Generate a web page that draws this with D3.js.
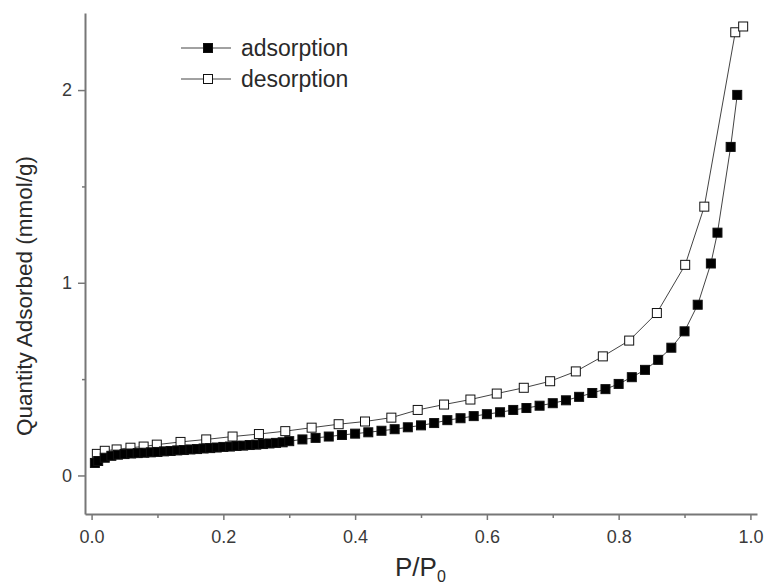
<!DOCTYPE html>
<html>
<head>
<meta charset="utf-8">
<script src="https://cdn.jsdelivr.net/npm/d3@7"></script>
<style>
  body { margin: 0; background: #fff; }
  svg { display: block; font-family: "Liberation Sans", Arial, sans-serif; }
  .axis path, .axis line { stroke: #777; }
  .axis text { fill: #3a3a3a; }
</style>
</head>
<body>
<div id="chart"></div>
<script>
// ----------------------------------------------
// Data (read off the isotherm)
// ----------------------------------------------
const adsP = [0.005, 0.01, 0.02, 0.03, 0.04, 0.05, 0.06, 0.07, 0.08, 0.09,
  0.10, 0.11, 0.12, 0.13, 0.14, 0.15, 0.16, 0.17, 0.18, 0.19,
  0.20, 0.21, 0.22, 0.23, 0.24, 0.25, 0.26, 0.27, 0.28, 0.29,
  0.30, 0.32, 0.34, 0.36, 0.38, 0.40, 0.42, 0.44, 0.46, 0.48,
  0.50, 0.52, 0.54, 0.56, 0.58, 0.60, 0.62, 0.64, 0.66, 0.68,
  0.70, 0.72, 0.74, 0.76, 0.78, 0.80, 0.82, 0.84, 0.86, 0.88,
  0.90, 0.92, 0.94, 0.95, 0.97, 0.98];
const adsQ = [0.065, 0.075, 0.092, 0.102, 0.108, 0.111, 0.114, 0.116, 0.118, 0.120,
  0.122, 0.125, 0.127, 0.130, 0.132, 0.135, 0.137, 0.140, 0.142, 0.145,
  0.148, 0.150, 0.153, 0.155, 0.158, 0.160, 0.163, 0.166, 0.169, 0.172,
  0.178, 0.187, 0.195, 0.202, 0.210, 0.217, 0.224, 0.232, 0.240, 0.250,
  0.260, 0.272, 0.287, 0.297, 0.308, 0.318, 0.328, 0.340, 0.350, 0.362,
  0.375, 0.390, 0.408, 0.428, 0.448, 0.475, 0.510, 0.548, 0.600, 0.663,
  0.748, 0.886, 1.100, 1.260, 1.705, 1.975];

const desP = [0.008, 0.020, 0.038, 0.059, 0.079, 0.099, 0.135, 0.174, 0.214, 0.254,
  0.294, 0.334, 0.375, 0.415, 0.455, 0.495, 0.535, 0.575, 0.615, 0.656,
  0.696, 0.735, 0.776, 0.816, 0.858, 0.901, 0.930, 0.977, 0.989];
const desQ = [0.112, 0.128, 0.135, 0.144, 0.150, 0.160, 0.174, 0.187, 0.202, 0.215,
  0.230, 0.248, 0.266, 0.280, 0.300, 0.340, 0.368, 0.394, 0.425, 0.455,
  0.489, 0.540, 0.618, 0.700, 0.843, 1.093, 1.395, 2.300, 2.330];

const xMajor = [0, 0.2, 0.4, 0.6, 0.8, 1.0];
const xMinor = [0.1, 0.3, 0.5, 0.7, 0.9];
const yMajor = [0, 1, 2];
const yMinor = [0.5, 1.5];

const seriesNames = ['adsorption', 'desorption'];

// ----------------------------------------------
// Setup
// ----------------------------------------------
const width = 768, height = 585;
const svg = d3.select('#chart').append('svg')
  .attr('width', width)
  .attr('height', height);

const x = d3.scaleLinear().domain([-0.01, 1.01]).range([85, 757]);
const y = d3.scaleLinear().domain([-0.2, 2.4]).range([514, 13]);

// axes: majors with labels, minors without
const xAxis = svg.append('g').attr('class', 'axis')
  .attr('transform', `translate(0,${y(-0.2)})`)
  .call(d3.axisBottom(x).tickValues(xMajor).tickFormat(d3.format('.1f')).tickSize(6).tickPadding(10).tickSizeOuter(0));
xAxis.select('.domain').attr('stroke-width', 2);
xAxis.selectAll('.tick line').attr('stroke-width', 1.5);
xAxis.selectAll('text').attr('font-size', 18).attr('font-family', 'Liberation Sans, Arial, sans-serif');

svg.append('g').attr('class', 'axis')
  .attr('transform', `translate(0,${y(-0.2)})`)
  .call(d3.axisBottom(x).tickValues(xMinor).tickFormat('').tickSize(4).tickSizeOuter(0))
  .call(g => g.select('.domain').remove())
  .selectAll('.tick line').attr('stroke-width', 1.5);

const yAxis = svg.append('g').attr('class', 'axis')
  .attr('transform', `translate(${x(-0.01)},0)`)
  .call(d3.axisLeft(y).tickValues(yMajor).tickFormat(d3.format('d')).tickSize(7).tickPadding(6).tickSizeOuter(0));
yAxis.select('.domain').attr('stroke-width', 2);
yAxis.selectAll('.tick line').attr('stroke-width', 1.5);
yAxis.selectAll('text').attr('font-size', 18).attr('font-family', 'Liberation Sans, Arial, sans-serif');

svg.append('g').attr('class', 'axis')
  .attr('transform', `translate(${x(-0.01)},0)`)
  .call(d3.axisLeft(y).tickValues(yMinor).tickFormat('').tickSize(3).tickSizeOuter(0))
  .call(g => g.select('.domain').remove())
  .selectAll('.tick line').attr('stroke-width', 1.5);

// axis titles
svg.append('text')
  .attr('transform', 'translate(32,296) rotate(-90)')
  .attr('text-anchor', 'middle')
  .attr('font-size', 22.5)
  .attr('fill', '#2a2a2a')
  .text('Quantity Adsorbed (mmol/g)');

const xt = svg.append('text')
  .attr('x', 395)
  .attr('y', 576)
  .attr('font-size', 26)
  .attr('fill', '#2a2a2a');
xt.append('tspan').text('P/P');
xt.append('tspan').attr('font-size', 16).attr('dy', 6).text('0');

// ----------------------------------------------
// Series
// ----------------------------------------------
const ads = adsP.map((p, i) => ({ p, q: adsQ[i] }));
const des = desP.map((p, i) => ({ p, q: desQ[i] }));
const line = d3.line().x(d => x(d.p)).y(d => y(d.q));
const ms = 9;

function drawSeries(data, fill) {
  svg.append('path')
    .datum(data)
    .attr('fill', 'none')
    .attr('stroke', '#444')
    .attr('stroke-width', 1)
    .attr('d', line);
  svg.append('g')
    .selectAll('rect')
    .data(data)
    .join('rect')
    .attr('x', d => x(d.p) - ms / 2)
    .attr('y', d => y(d.q) - ms / 2)
    .attr('width', ms)
    .attr('height', ms)
    .attr('fill', fill)
    .attr('stroke', '#111')
    .attr('stroke-width', 1);
}

drawSeries(des, '#fff');
drawSeries(ads, '#000');

// ----------------------------------------------
// Legend
// ----------------------------------------------
const legend = svg.append('g');
seriesNames.forEach((name, i) => {
  const ly = 48 + i * 31;
  const row = legend.append('g');
  row.append('line')
    .attr('x1', 181).attr('x2', 231)
    .attr('y1', ly).attr('y2', ly)
    .attr('stroke', '#444').attr('stroke-width', 1);
  row.append('rect')
    .attr('x', 208 - ms / 2).attr('y', ly - ms / 2)
    .attr('width', ms).attr('height', ms)
    .attr('fill', i === 0 ? '#000' : '#fff')
    .attr('stroke', '#111');
  row.append('text')
    .attr('x', 241).attr('y', ly + 8)
    .attr('font-size', 23)
    .attr('fill', '#2a2a2a')
    .text(name);
});
</script>
</body>
</html>
